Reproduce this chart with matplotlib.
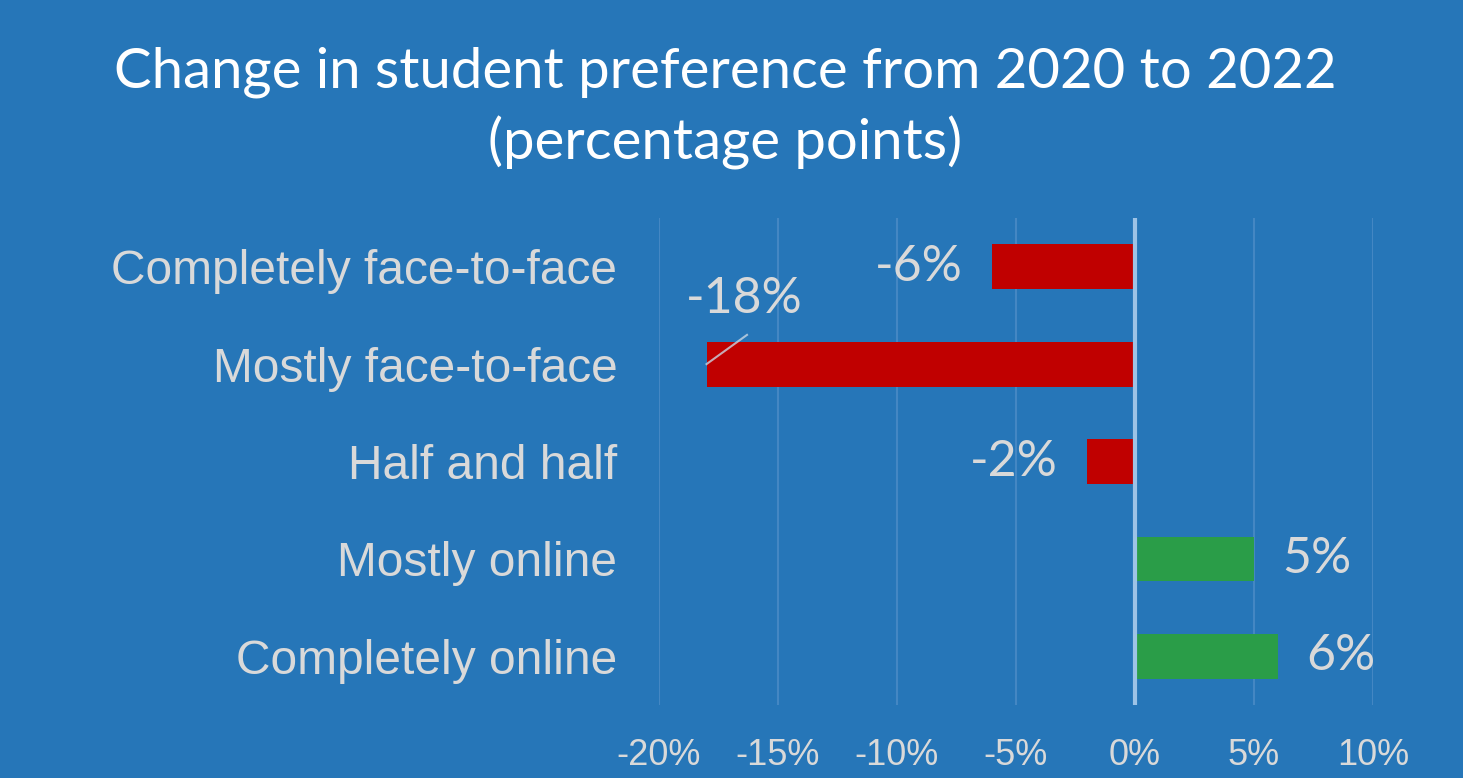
import numpy as np
import matplotlib.pyplot as plt

categories = ["Completely face-to-face", "Mostly face-to-face", "Half and half",
              "Mostly online", "Completely online"]
changes = [-6, -18, -2, 5, 6]
xticks = [-20, -15, -10, -5, 0, 5, 10]

bg = "#2676B8"
txt = "#D9D9D9"
red = "#C00000"
green = "#2A9D48"

fig = plt.figure(figsize=(14.63, 7.78), dpi=100, facecolor=bg)
ax = fig.add_axes([0.4504, 0.0938, 0.4881, 0.626])
ax.set_facecolor(bg)

y = np.arange(len(categories))
colors = [red if v < 0 else green for v in changes]
ax.barh(y, changes, height=0.46, color=colors, zorder=2)

ax.set_xlim(-20, 10)
ax.set_ylim(len(categories) - 0.5, -0.5)
ax.set_xticks(xticks)
ax.set_xticklabels([f"{t}%" for t in xticks], fontsize=26, color=txt,
                   family="Liberation Sans")
ax.set_yticks(y)
ax.set_yticklabels(categories, fontsize=34.5, color=txt, family="Liberation Sans")
ax.tick_params(axis="both", length=0)
ax.tick_params(axis="x", pad=24)
ax.tick_params(axis="y", pad=30)
for s in ax.spines.values():
    s.set_visible(False)

for t in xticks:
    if t != 0:
        ax.axvline(t, color="#4487C3", lw=1.5, zorder=1)
ax.axvline(0, color="#9DC3E6", lw=3, zorder=3)

# data labels
for i, v in enumerate(changes):
    if v == -18:
        continue
    if v < 0:
        ax.text(v - 1.25, i, f"{v}%", ha="right", va="center", fontsize=36,
                color=txt, family="Lato")
    else:
        ax.text(v + 1.2, i, f"{v}%", ha="left", va="center", fontsize=36,
                color=txt, family="Lato")

ax.plot([-18, -16.3], [1, 0.7], color="#C9D6E3", lw=1.5, alpha=0.8, zorder=3)
ax.text(-16.4, 0.33, "-18%", ha="center", va="center", fontsize=36,
        color=txt, family="Lato")

fig.text(0.4955, 0.861, "Change in student preference from 2020 to 2022\n(percentage points)",
         ha="center", va="center", fontsize=40.5, color="white", family="Lato",
         linespacing=1.4)

fig.savefig("out.png", dpi=100, facecolor=bg)
